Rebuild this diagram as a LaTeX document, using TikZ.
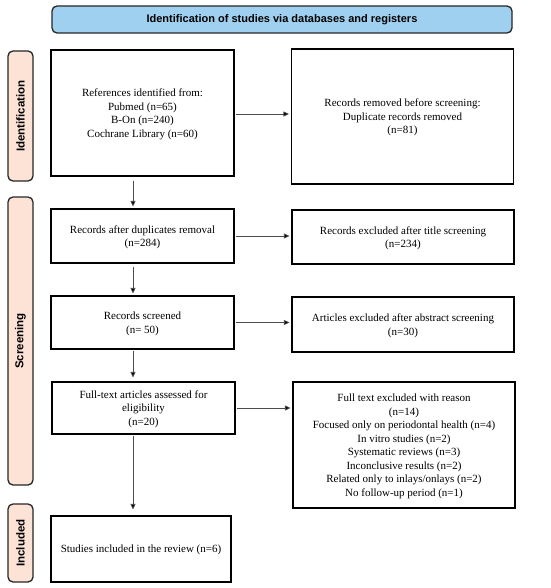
\documentclass[tikz,border=0pt]{standalone}
\usepackage{fontspec}
\setmainfont{Liberation Serif}
\setsansfont{Liberation Sans}
\usetikzlibrary{arrows.meta}
\definecolor{hdrblue}{HTML}{A0D0F0}
\definecolor{sidepeach}{HTML}{FDE3D6}
\tikzset{
  box/.style={draw=black, line width=1.1pt, fill=white, align=center, font=\fontsize{11}{13.5}\selectfont, inner sep=0pt, text depth=0pt},
  hdr/.style={draw=black!85, line width=1.3pt, fill=hdrblue, rounded corners=5pt, font=\sffamily\bfseries\fontsize{11}{12}\selectfont, inner sep=0pt},
  side/.style={draw=black!85, line width=1.3pt, fill=sidepeach, rounded corners=5pt, font=\sffamily\bfseries\fontsize{11.5}{12}\selectfont, inner sep=0pt},
  arr/.style={draw=black!70, line width=0.7pt, -{Triangle[length=5.5pt,width=5pt,fill=black]}},
}
\begin{document}
\begin{tikzpicture}[x=1pt,y=-1pt]
\useasboundingbox (0,0) rectangle (550,588);
% header
\node[hdr, minimum width=460pt, minimum height=27pt] (hd) at (282,19.5) {Identification of studies via databases and registers};
% side labels
\node[side, minimum width=130pt, minimum height=25pt, rotate=90] (sid) at (20.5,116) {Identification};
\node[side, minimum width=288pt, minimum height=25pt, rotate=90] (ssc) at (20.5,341) {Screening};
\node[side, minimum width=78pt, minimum height=25pt, rotate=90] (sin) at (20.5,543) {Included};
% left boxes
\node[box, minimum width=183pt, minimum height=126pt] (b1) at (142.5,113) {References identified from:\\Pubmed (n=65)\\B-On (n=240)\\Cochrane Library (n=60)};
\node[box, minimum width=183pt, minimum height=54pt] (b3) at (142.5,236) {Records after duplicates removal\\(n=284)};
\node[box, minimum width=183pt, minimum height=53pt] (b5) at (142.5,322.5) {Records screened\\(n= 50)};
\node[box, minimum width=183pt, minimum height=52pt] (b7) at (143.5,408) {Full-text articles assessed for\\eligibility\\(n=20)};
\node[box, minimum width=180pt, minimum height=66pt] (b9) at (141,549) {Studies included in the review (n=6)};
% right boxes
\node[box, minimum width=222pt, minimum height=135pt] (b2) at (402.5,116.5) {Records removed before screening:\\Duplicate records removed\\(n=81)};
\node[box, minimum width=222pt, minimum height=54pt] (b4) at (403,237) {Records excluded after title screening\\(n=234)};
\node[box, minimum width=222pt, minimum height=55pt] (b6) at (403,324.5) {Articles excluded after abstract screening\\(n=30)};
\node[box, minimum width=222pt, minimum height=126pt] (b8) at (404,445) {Full text excluded with reason\\(n=14)\\Focused only on periodontal health (n=4)\\In vitro studies (n=2)\\Systematic reviews (n=3)\\Inconclusive results (n=2)\\Related only to inlays/onlays (n=2)\\No follow-up period (n=1)};
% horizontal arrows
\draw[arr] ([xshift=1pt]b1.east |- 0,114) -- ([xshift=-2pt]b2.west |- 0,114);
\draw[arr] ([xshift=1pt]b3.east) -- ([xshift=-2pt]b4.west |- b3.east);
\draw[arr] ([xshift=1pt]b5.east) -- ([xshift=-2pt]b6.west |- b5.east);
\draw[arr] ([xshift=1pt]b7.east) -- ([xshift=-2pt]b8.west |- b7.east);
% vertical arrows
\draw[arr] ([yshift=-4pt]b1.south -| 133,0) -- ([yshift=2pt]b3.north -| 133,0);
\draw[arr] ([yshift=-3pt]b3.south -| 133,0) -- ([yshift=2pt]b5.north -| 133,0);
\draw[arr] ([yshift=-1pt]b5.south -| 133,0) -- ([yshift=4pt]b7.north -| 133,0);
\draw[arr] ([yshift=-1pt]b7.south -| 133,0) -- ([yshift=6pt]b9.north -| 133,0);
\end{tikzpicture}
\end{document}
